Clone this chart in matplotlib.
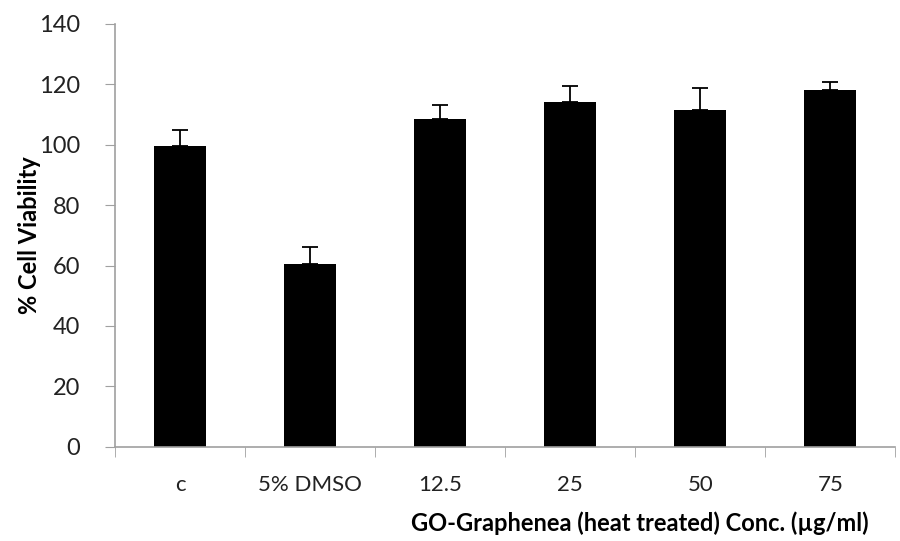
import matplotlib
matplotlib.use('Agg')
import matplotlib.pyplot as plt
import numpy as np

categories = ['c', '5% DMSO', '12.5', '25', '50', '75']
viability = [99.7, 60.6, 108.6, 114.2, 111.6, 118.2]
err_up = [5.0, 5.6, 4.6, 5.3, 7.3, 2.7]

plt.rcParams['font.family'] = ['Lato', 'DejaVu Sans']

fig = plt.figure(figsize=(9, 5.41), dpi=100)
ax = fig.add_axes([0.128, 0.174, 0.867, 0.782])

x = np.arange(len(categories))
ax.bar(x, viability, width=0.4, color='black', zorder=2)
ax.errorbar(x, viability, yerr=[np.zeros(len(err_up)), err_up], fmt='none',
            ecolor='black', elinewidth=1.3, capsize=6, capthick=1.3, zorder=3)

ax.set_xlim(-0.5, len(categories) - 0.5)
ax.set_ylim(0, 140)
ax.set_yticks(np.arange(0, 141, 20))

# category labels centred, ticks at category boundaries
ax.set_xticks(x)
ax.set_xticklabels(categories, fontsize=16, color='#222222')
ax.set_xticks(np.arange(-0.5, len(categories)), minor=True)
ax.tick_params(axis='x', which='major', length=0, pad=20)
ax.tick_params(axis='x', which='minor', length=7, color='#a0a0a0', direction='out')
ax.tick_params(axis='y', length=7, color='#a0a0a0', direction='out', pad=18,
               labelsize=17, labelcolor='#222222')

for side in ['top', 'right']:
    ax.spines[side].set_visible(False)
for side in ['left', 'bottom']:
    ax.spines[side].set_color('#a0a0a0')
    ax.spines[side].set_linewidth(1.2)

ax.set_ylabel('% Cell Viability', fontsize=17, fontweight='bold')
ax.yaxis.set_label_coords(-0.095, 0.5)
ax.set_xlabel('GO-Graphenea (heat treated) Conc. (\u00b5g/ml)', fontsize=17,
              fontweight='bold', loc='right', labelpad=12)
ax.xaxis.label.set_x(0.965)

fig.savefig('out.png', dpi=100)
